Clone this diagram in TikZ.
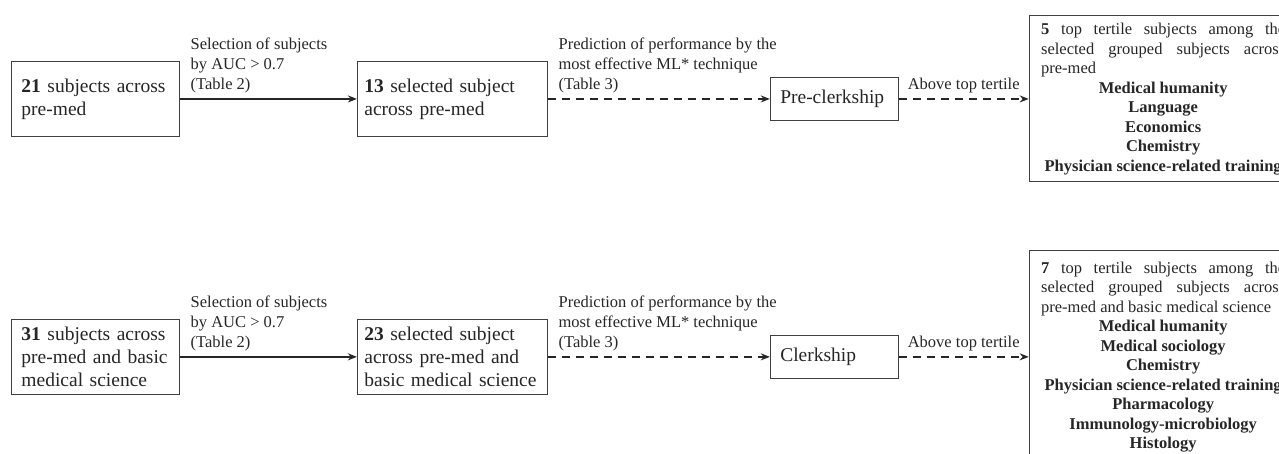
\documentclass[tikz,border=0pt]{standalone}
\usepackage{fontspec}
\setmainfont{Liberation Serif}
\usepackage{tikz}
\usetikzlibrary{positioning}
\usetikzlibrary{arrows.meta}
\setlength{\parindent}{0pt}
\hyphenpenalty=10000
\exhyphenpenalty=10000
\tolerance=10000
\newcommand{\boxfont}{\fontsize{19.5}{23}\selectfont}
\newcommand{\edgefont}{\fontsize{16.5}{20}\selectfont}
\newcommand{\listfont}{\fontsize{16.5}{19.5}\selectfont}

\begin{document}
\begin{tikzpicture}[x=1pt,y=-1pt,->,>={Stealth[length=9pt,width=7pt]},line width=1.6pt,
  color=black!85,
  main node/.style={rectangle,draw=black!75,line width=0.9pt,font=\boxfont,align=left,inner xsep=10pt,minimum height=75pt},
  stage node/.style={rectangle,draw=black!75,line width=0.9pt,font=\boxfont,align=left,inner xsep=10pt,text width=108pt,minimum height=43pt},
  result node/.style={rectangle,draw=black!75,line width=0.9pt,font=\listfont,align=justify,inner xsep=12pt,text width=244pt},
  edge label/.style={font=\edgefont,align=left,inner xsep=10pt,inner ysep=5.5pt},
  dashed edge/.style={dash pattern=on 8pt off 6pt}]

  \useasboundingbox (0,0) rectangle (1279,454);
  \clip (0,0) rectangle (1279,454);

  \node[main node,text width=148pt,anchor=north west] (a1) at (11,61) {\textbf{21} subjects across\\pre-med};
  \node[main node,text width=176pt,inner xsep=7pt,right=177pt of a1] (b1) {\textbf{13} selected subject\\across pre-med};
  \node[stage node,right=222pt of b1] (c1) {Pre-clerkship};
  \node[result node,minimum height=166pt,right=130pt of c1] (d1) {\textbf{5} top tertile subjects among the selected grouped subjects across pre-med\par
    {\centering\bfseries Medical humanity\\Language\\Economics\\Chemistry\\Physician science-related training\par}};

  \node[main node,text width=148pt,below=182pt of a1] (a2) {\textbf{31} subjects across\\pre-med and basic\\medical science};
  \node[main node,text width=176pt,inner xsep=7pt,right=177pt of a2] (b2) {\textbf{23} selected subject\\across pre-med and\\basic medical science};
  \node[stage node,right=222pt of b2] (c2) {Clerkship};
  \node[result node,minimum height=213pt,right=130pt of c2] (d2) {\textbf{7} top tertile subjects among the selected grouped subjects across pre-med and basic medical science\par
    {\centering\bfseries Medical humanity\\Medical sociology\\Chemistry\\Physician science-related training\\Pharmacology\\Immunology-microbiology\\Histology\par}};

  \draw (a1) edge node[edge label,pos=0,above right] {Selection of subjects\\by AUC > 0.7\\(Table 2)} (b1);
  \draw (b1) edge[dashed edge] node[edge label,pos=0,above right] {Prediction of performance by the\\most effective ML* technique\\(Table 3)} (c1);
  \draw (c1) edge[dashed edge] node[edge label,above] {Above top tertile} (d1);

  \draw (a2) edge node[edge label,pos=0,above right] {Selection of subjects\\by AUC > 0.7\\(Table 2)} (b2);
  \draw (b2) edge[dashed edge] node[edge label,pos=0,above right] {Prediction of performance by the\\most effective ML* technique\\(Table 3)} (c2);
  \draw (c2) edge[dashed edge] node[edge label,above] {Above top tertile} (d2);

\end{tikzpicture}
\end{document}
